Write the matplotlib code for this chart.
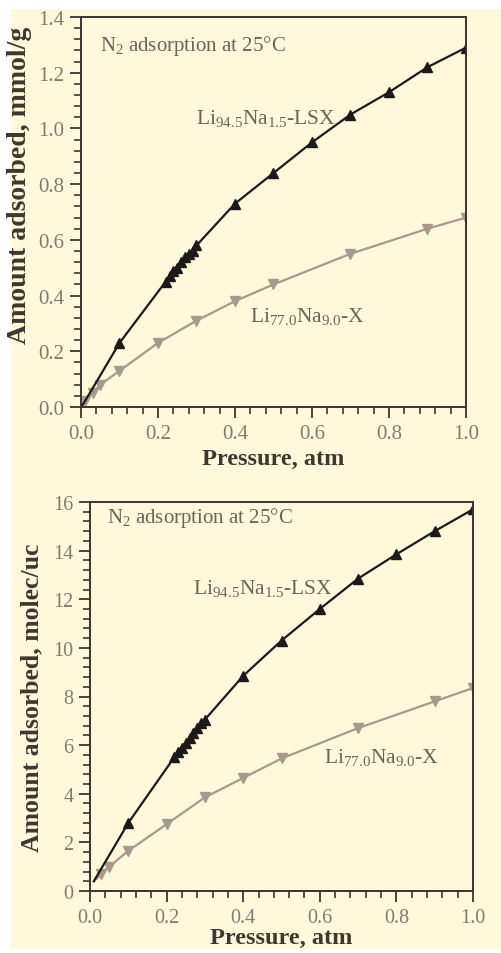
import matplotlib.pyplot as plt
import matplotlib.ticker as ticker
from matplotlib.patches import Rectangle

# ── data ──
# top panel: mmol/g
p_lsx = [0.01, 0.10, 0.22, 0.23, 0.24, 0.25, 0.26, 0.27, 0.28, 0.29, 0.30,
         0.40, 0.50, 0.60, 0.70, 0.80, 0.90, 1.00]
q_lsx_mmol = [0.02, 0.23, 0.45, 0.47, 0.49, 0.50, 0.52, 0.54, 0.55, 0.56, 0.58,
              0.73, 0.84, 0.95, 1.05, 1.13, 1.22, 1.29]
p_x = [0.01, 0.03, 0.05, 0.10, 0.20, 0.30, 0.40, 0.50, 0.70, 0.90, 1.00]
q_x_mmol = [0.02, 0.05, 0.08, 0.13, 0.23, 0.31, 0.38, 0.44, 0.55, 0.64, 0.68]

# bottom panel: molec/uc
q_lsx_uc = [0.40, 2.80, 5.50, 5.70, 5.90, 6.10, 6.30, 6.50, 6.70, 6.90, 7.05,
            8.85, 10.30, 11.60, 12.85, 13.85, 14.80, 15.70]
q_x_uc = [0.40, 0.70, 1.00, 1.65, 2.75, 3.85, 4.65, 5.45, 6.70, 7.80, 8.35]

CREAM = "#FFF8DA"
TICK_COL = "#85796c"
TEXT_COL = "#6e6256"
LSX_COL = "#1c1a18"
X_COL = "#a8998a"

plt.rcParams["font.family"] = ["Liberation Serif", "DejaVu Serif"]
plt.rcParams["mathtext.fontset"] = "custom"
plt.rcParams["mathtext.rm"] = "Liberation Serif"
plt.rcParams["mathtext.it"] = "Liberation Serif"

fig = plt.figure(figsize=(5.02, 9.54), dpi=100)
fig.patch.set_facecolor("white")
fig.patches.append(Rectangle((11 / 502, 4 / 954), 491 / 502, 940 / 954,
                             transform=fig.transFigure, facecolor=CREAM,
                             edgecolor="none", zorder=-10))

ax1 = fig.add_axes([81 / 502, 1 - 408 / 954, 385 / 502, 390 / 954])
ax2 = fig.add_axes([90 / 502, 1 - 892 / 954, 383 / 502, 389 / 954])


def style_axes(ax, ymax, ymajor, yminor, ylabel, ticksize, ylsize, ylpos, xpad):
    ax.set_facecolor(CREAM)
    ax.set_xlim(0, 1.0)
    ax.set_ylim(0, ymax)
    ax.xaxis.set_major_locator(ticker.MultipleLocator(0.2))
    ax.xaxis.set_minor_locator(ticker.MultipleLocator(0.04))
    ax.yaxis.set_major_locator(ticker.MultipleLocator(ymajor))
    ax.yaxis.set_minor_locator(ticker.MultipleLocator(yminor))
    ax.xaxis.set_major_formatter(ticker.FormatStrFormatter("%.1f"))
    ax.tick_params(which="major", direction="out", length=8, width=1.3,
                   color="#3a342e", labelcolor=TICK_COL, labelsize=ticksize,
                   pad=4, top=False, right=False)
    ax.tick_params(which="minor", direction="out", length=5, width=1.2,
                   color="#3a342e", top=False, right=False)
    for sp in ax.spines.values():
        sp.set_linewidth(1.4)
        sp.set_color("#3a342e")
    ax.set_xlabel("Pressure, atm", fontsize=17.5, fontweight="bold",
                  color="#3e3730", labelpad=xpad)
    ax.set_ylabel(ylabel, fontsize=ylsize, fontweight="bold", color="#3e3730")
    ax.yaxis.set_label_coords(*ylpos)


# ── top panel ──
ax1.plot([0.0] + p_x, [0.0] + q_x_mmol, color=X_COL, lw=1.6, marker="v",
         markersize=7, markevery=list(range(1, len(p_x) + 1)), mec=X_COL, mfc=X_COL)
ax1.plot([0.0] + p_lsx, [0.0] + q_lsx_mmol, color=LSX_COL, lw=1.6, marker="^",
         markersize=7, markevery=list(range(2, len(p_lsx) + 1)), mec=LSX_COL, mfc=LSX_COL)
style_axes(ax1, 1.4, 0.2, 0.04, "Amount adsorbed, mmol/g", 15, 20, (-0.127, 0.57), 4)
ax1.yaxis.set_major_formatter(ticker.FormatStrFormatter("%.1f"))
ax1.text(0.05, 1.30, "N$_2$ adsorption at 25°C", fontsize=15, color=TEXT_COL,
         va="center")
ax1.text(0.30, 1.04, "Li$_{94.5}$Na$_{1.5}$-LSX", fontsize=15.5, color=TEXT_COL,
         va="center")
ax1.text(0.44, 0.33, "Li$_{77.0}$Na$_{9.0}$-X", fontsize=15.5, color=TEXT_COL,
         va="center")

# ── bottom panel ──
ax2.plot(p_x, q_x_uc, color=X_COL, lw=1.6, marker="v", markersize=7,
         markevery=list(range(1, len(p_x))), mec=X_COL, mfc=X_COL)
ax2.plot(p_lsx, q_lsx_uc, color=LSX_COL, lw=1.6, marker="^", markersize=7,
         markevery=list(range(1, len(p_lsx))), mec=LSX_COL, mfc=LSX_COL)
style_axes(ax2, 16, 2, 0.4, "Amount adsorbed, molec/uc", 14.5, 18.5, (-0.123, 0.50), 0.5)
ax2.text(0.045, 15.4, "N$_2$ adsorption at 25°C", fontsize=15, color=TEXT_COL,
         va="center")
ax2.text(0.27, 12.5, "Li$_{94.5}$Na$_{1.5}$-LSX", fontsize=15.5, color=TEXT_COL,
         va="center")
ax2.text(0.61, 5.55, "Li$_{77.0}$Na$_{9.0}$-X", fontsize=15.5, color=TEXT_COL,
         va="center")

fig.savefig("out.png", dpi=100)
